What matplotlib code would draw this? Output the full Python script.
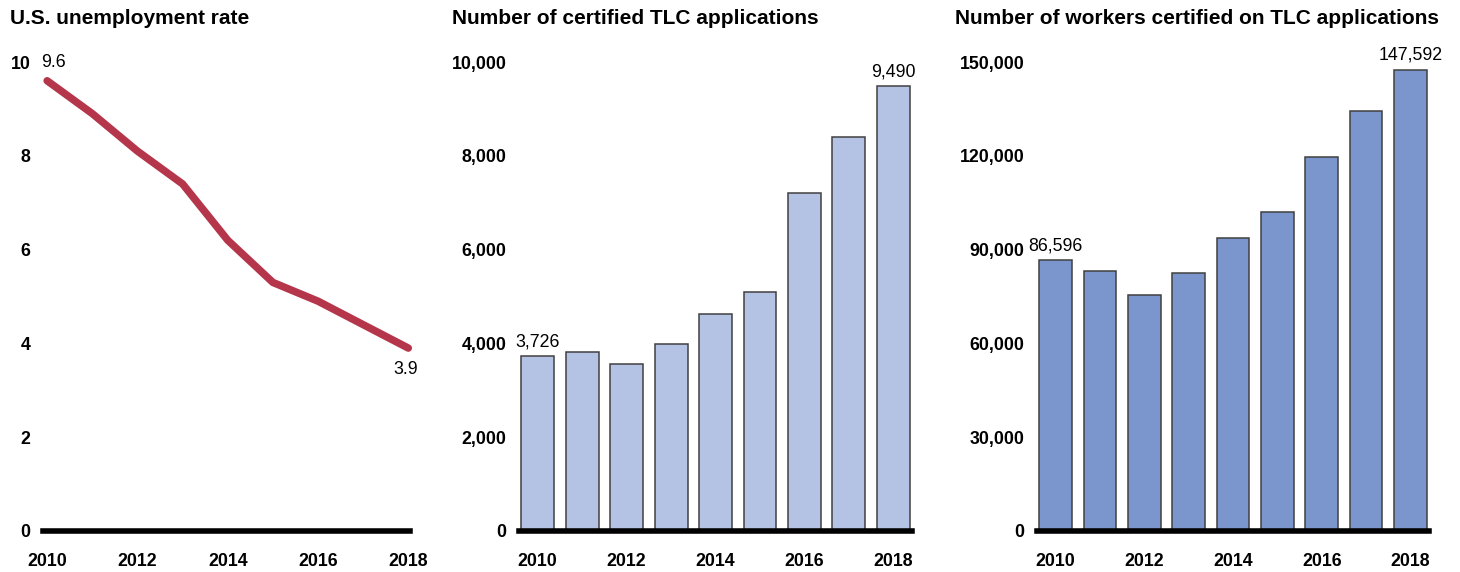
import matplotlib.pyplot as plt
from matplotlib.ticker import FuncFormatter

plt.rcParams['font.family'] = ['Liberation Sans', 'DejaVu Sans']

years = [2010, 2011, 2012, 2013, 2014, 2015, 2016, 2017, 2018]
unemployment = [9.6, 8.9, 8.1, 7.4, 6.2, 5.3, 4.9, 4.4, 3.9]
tlc_apps = [3726, 3820, 3560, 3990, 4630, 5100, 7210, 8400, 9490]
tlc_workers = [86596, 83150, 75470, 82500, 93700, 102000, 119600, 134300, 147592]

titles = ['U.S. unemployment rate',
          'Number of certified TLC applications',
          'Number of workers certified on TLC applications']
year_ticks = [2010, 2012, 2014, 2016, 2018]

line_color = '#B5364B'
light_bar = '#B4C2E4'
dark_bar = '#7B96CC'
edge = '#404040'

fig = plt.figure(figsize=(14.6, 5.72), dpi=100)
bottom, height = 0.0717, 0.8199
ax1 = fig.add_axes([0.0295, bottom, 0.2514, height])
ax2 = fig.add_axes([0.3555, bottom, 0.2692, height])
ax3 = fig.add_axes([0.7103, bottom, 0.2685, height])

comma = FuncFormatter(lambda v, p: f'{int(v):,}')


def style(ax, ymax, yticks, xlim):
    ax.set_ylim(0, ymax)
    ax.set_xlim(*xlim)
    ax.set_yticks(yticks)
    ax.set_xticks(year_ticks)
    for s in ax.spines.values():
        s.set_visible(False)
    ax.tick_params(length=0, labelsize=12.8)
    ax.tick_params(axis='y', pad=9)
    ax.tick_params(axis='x', pad=16)
    for lab in ax.get_xticklabels() + ax.get_yticklabels():
        lab.set_fontweight('bold')
    ax.axhline(0, color='black', lw=4, zorder=5, clip_on=False)


# panel 1: line
ax1.plot(years, unemployment, color=line_color, lw=5.4, solid_capstyle='round',
         clip_on=False, zorder=4)
style(ax1, 10, [0, 2, 4, 6, 8, 10], (2009.91, 2018.04))
ax1.annotate(f'{unemployment[0]}', (years[0], unemployment[0]), xytext=(-4, 7),
             textcoords='offset points', ha='left', va='bottom', fontsize=12.8)
ax1.annotate(f'{unemployment[-1]}', (years[-1], unemployment[-1]), xytext=(-2, -9),
             textcoords='offset points', ha='center', va='top', fontsize=12.8)

# panel 2: bars
ax2.bar(years, tlc_apps, width=0.74, color=light_bar, edgecolor=edge, lw=1.1, zorder=3)
style(ax2, 10000, [0, 2000, 4000, 6000, 8000, 10000], (2009.58, 2018.42))
ax2.yaxis.set_major_formatter(comma)
for i in (0, -1):
    ax2.annotate(f'{tlc_apps[i]:,}', (years[i], tlc_apps[i]), xytext=(0, 4),
                 textcoords='offset points', ha='center', va='bottom', fontsize=12.8)

# panel 3: bars
ax3.bar(years, tlc_workers, width=0.74, color=dark_bar, edgecolor=edge, lw=1.1, zorder=3)
style(ax3, 150000, [0, 30000, 60000, 90000, 120000, 150000], (2009.58, 2018.42))
ax3.yaxis.set_major_formatter(comma)
for i in (0, -1):
    ax3.annotate(f'{tlc_workers[i]:,}', (years[i], tlc_workers[i]), xytext=(0, 4),
                 textcoords='offset points', ha='center', va='bottom', fontsize=12.8)

for x, t in zip([0.007, 0.3096, 0.654], titles):
    fig.text(x, 0.968, t, fontsize=15, fontweight='bold', ha='left', va='center')

fig.savefig('out.png', dpi=100)
